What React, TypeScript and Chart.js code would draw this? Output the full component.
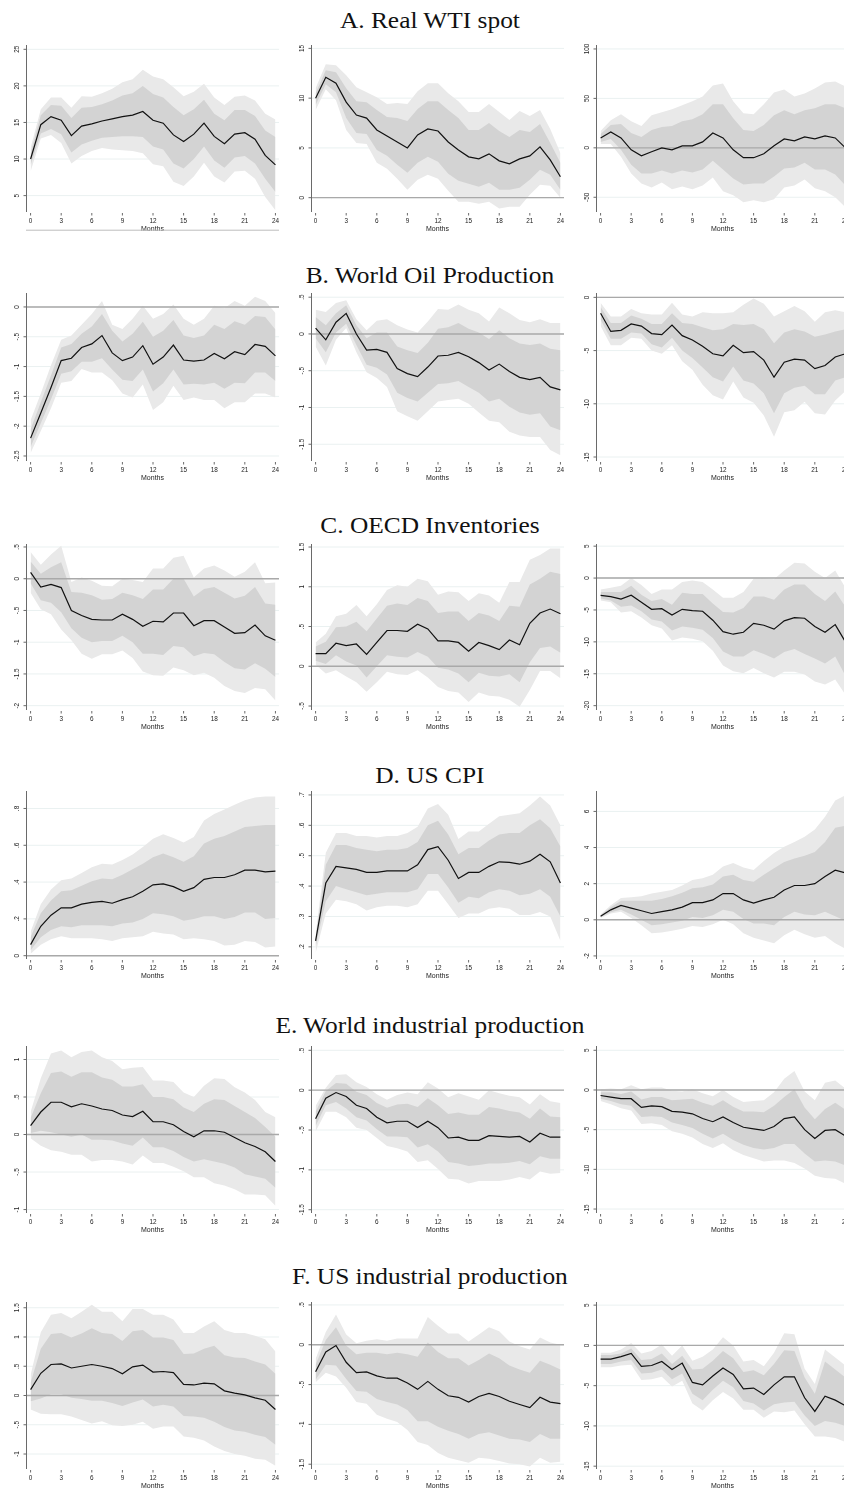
import React, { useEffect, useRef } from 'react';
import { Chart, registerables } from 'chart.js';
Chart.register(...registerables);

// ---------- categories / tick labels ----------
const months = [0, 1, 2, 3, 4, 5, 6, 7, 8, 9, 10, 11, 12, 13, 14, 15, 16, 17, 18, 19, 20, 21, 22, 23, 24];
const xTicks = [0, 3, 6, 9, 12, 15, 18, 21, 24];
const xTitle = 'Months';
const rowTitles = [
  'A. Real WTI spot',
  'B. World Oil Production',
  'C. OECD Inventories',
  'D. US CPI',
  'E. World industrial production',
  'F. US industrial production',
];

// ---------- A. Real WTI spot ----------
const a1Irf = [10, 14.7, 15.8, 15.3, 13.2, 14.5, 14.8, 15.2, 15.5, 15.8, 16.0, 16.5, 15.3, 14.9, 13.3, 12.4, 13.4, 14.9, 13.1, 12.1, 13.4, 13.6, 12.7, 10.5, 9.2];
const a1Hi68 = [10.8, 16, 17.4, 17.3, 15.6, 17.0, 17.1, 17.5, 18, 18.7, 19, 20, 18.9, 18.4, 17.1, 16, 16.8, 18.1, 16.2, 15.3, 16.7, 16.7, 15.9, 13.9, 13];
const a1Hi90 = [11.5, 16.8, 18.4, 18.4, 17, 18.6, 18.5, 19, 19.6, 20.5, 20.9, 22.2, 21.3, 20.9, 19.8, 18.6, 19.2, 20.3, 18.4, 17.4, 18.5, 18.7, 18.0, 16.2, 15.4];
const a1Lo68 = [9.2, 13.5, 14.1, 13.4, 10.9, 12.0, 12.5, 12.9, 13, 13.1, 13.1, 13, 11.7, 11.3, 9.4, 8.7, 10.0, 11.7, 9.8, 8.8, 10.2, 10.4, 9.4, 7.3, 5.5];
const a1Lo90 = [8.3, 12.8, 13.3, 12.2, 9.4, 10.4, 11.1, 11.5, 11.3, 11.2, 11.1, 10.8, 9.3, 9.0, 6.9, 6.3, 7.6, 9.5, 7.6, 6.8, 8.3, 8.4, 7.3, 4.8, 3.0];

const a2Irf = [10, 12.1, 11.5, 9.6, 8.3, 8.0, 6.8, 6.2, 5.6, 5.0, 6.3, 6.9, 6.7, 5.6, 4.8, 4.1, 3.9, 4.4, 3.7, 3.4, 3.9, 4.2, 5.1, 3.8, 2.1];
const a2Hi68 = [10.5, 12.8, 12.6, 11.0, 9.7, 9.6, 8.8, 8.1, 8.0, 7.7, 8.9, 9.7, 9.7, 8.8, 8.0, 6.8, 6.8, 7.5, 6.7, 6.1, 6.8, 6.6, 7.4, 5.5, 3.5];
const a2Hi90 = [11.0, 13.4, 13.3, 12.3, 11.1, 10.6, 10.1, 9.4, 9.5, 9.4, 10.7, 11.5, 11.5, 10.5, 9.7, 8.6, 8.6, 9.4, 8.6, 7.8, 8.7, 8.2, 8.8, 6.9, 4.5];
const a2Lo68 = [9.3, 11.4, 10.6, 8.0, 6.5, 6.4, 4.8, 4.2, 3.3, 2.5, 3.5, 4.1, 3.6, 2.4, 1.7, 1.4, 1.1, 1.5, 0.8, 0.8, 1.0, 1.8, 2.8, 2.3, 0.8];
const a2Lo90 = [8.8, 10.9, 9.8, 6.8, 5.5, 5.4, 3.5, 2.9, 1.9, 0.8, 1.8, 2.3, 1.9, 0.7, -0.4, -0.4, -0.6, -0.4, -1.1, -0.9, -0.9, 0.3, 1.3, 1.2, 0.0];

const a3Irf = [10, 16, 10, -2, -8, -4, 0, -2, 2, 2, 6, 15, 10, -2, -10, -10, -6, 2, 9, 7, 11, 9, 12, 10, 0];
const a3Hi68 = [14, 23, 24, 15, 11, 18, 21, 22, 27, 29, 34, 44, 44, 30, 18, 17, 23, 33, 38, 34, 38, 40, 44, 44, 40];
const a3Hi90 = [17, 28, 34, 27, 22, 33, 36, 39, 43, 47, 52, 63, 65, 47, 35, 34, 44, 56, 59, 52, 55, 60, 66, 67, 62];
const a3Lo68 = [6, 9, -2, -17, -26, -26, -23, -26, -23, -25, -22, -13, -22, -31, -37, -36, -36, -29, -21, -20, -15, -22, -22, -27, -38];
const a3Lo90 = [4, 4, -9, -26, -36, -40, -35, -42, -39, -42, -38, -30, -44, -48, -55, -53, -55, -52, -40, -38, -32, -41, -44, -50, -60];

// ---------- B. World Oil Production ----------
const b1Irf = [-2.2, -1.78, -1.35, -0.9, -0.86, -0.68, -0.62, -0.48, -0.77, -0.9, -0.84, -0.65, -0.96, -0.84, -0.64, -0.89, -0.91, -0.89, -0.78, -0.87, -0.75, -0.8, -0.63, -0.66, -0.82];
const b1Hi68 = [-2.05, -1.6, -1.15, -0.68, -0.62, -0.45, -0.33, -0.12, -0.4, -0.58, -0.45, -0.25, -0.5, -0.4, -0.22, -0.48, -0.52, -0.48, -0.3, -0.37, -0.24, -0.3, -0.15, -0.17, -0.38];
const b1Hi90 = [-1.9, -1.45, -0.98, -0.55, -0.48, -0.3, -0.12, 0.1, -0.3, -0.37, -0.2, 0.02, -0.2, -0.12, 0.04, -0.2, -0.3, -0.2, 0.02, -0.02, 0.1, 0.02, 0.17, 0.1, -0.1];
const b1Lo68 = [-2.35, -1.95, -1.55, -1.12, -1.08, -0.92, -0.92, -0.86, -1.05, -1.22, -1.24, -1.05, -1.42, -1.28, -1.05, -1.3, -1.29, -1.3, -1.27, -1.37, -1.27, -1.28, -1.1, -1.1, -1.24];
const b1Lo90 = [-2.45, -2.08, -1.7, -1.27, -1.24, -1.04, -1.1, -1.1, -1.23, -1.45, -1.52, -1.3, -1.73, -1.6, -1.32, -1.56, -1.52, -1.56, -1.56, -1.7, -1.6, -1.6, -1.45, -1.45, -1.52];

const b2Irf = [0.08, -0.08, 0.16, 0.28, 0.0, -0.22, -0.21, -0.25, -0.47, -0.54, -0.58, -0.45, -0.3, -0.29, -0.25, -0.31, -0.39, -0.49, -0.41, -0.51, -0.59, -0.62, -0.59, -0.72, -0.76];
const b2Hi68 = [0.23, 0.12, 0.28, 0.39, 0.12, -0.06, 0.02, 0.02, -0.17, -0.22, -0.26, -0.12, 0.07, 0.09, 0.15, 0.07, 0.02, -0.07, 0.05, -0.06, -0.13, -0.15, -0.13, -0.2, -0.22];
const b2Hi90 = [0.33, 0.3, 0.42, 0.46, 0.2, 0.05, 0.18, 0.2, 0.12, 0.06, 0.02, 0.17, 0.34, 0.33, 0.4, 0.33, 0.28, 0.17, 0.36, 0.28, 0.19, 0.16, 0.2, 0.15, 0.15];
const b2Lo68 = [-0.06, -0.25, 0.02, 0.14, -0.15, -0.42, -0.46, -0.55, -0.8, -0.87, -0.92, -0.8, -0.68, -0.67, -0.64, -0.72, -0.8, -0.92, -0.88, -0.99, -1.07, -1.1, -1.08, -1.26, -1.31];
const b2Lo90 = [-0.17, -0.43, -0.08, 0.08, -0.25, -0.52, -0.6, -0.72, -1.05, -1.12, -1.18, -1.05, -0.92, -0.9, -0.88, -0.95, -1.07, -1.18, -1.2, -1.33, -1.38, -1.4, -1.4, -1.58, -1.65];

const b3Irf = [-1.5, -3.2, -3.1, -2.5, -2.7, -3.4, -3.5, -2.6, -3.6, -4.0, -4.6, -5.3, -5.5, -4.5, -5.2, -5.1, -5.9, -7.5, -6.1, -5.8, -5.9, -6.7, -6.4, -5.6, -5.3];
const b3Hi68 = [-0.9, -2.4, -2.4, -1.7, -2.0, -2.5, -2.5, -1.5, -2.4, -2.5, -2.8, -3.1, -3.0, -2.5, -2.6, -2.5, -3.0, -4.3, -3.3, -3.0, -3.2, -3.7, -3.5, -3.2, -3.0];
const b3Hi90 = [-0.5, -1.8, -1.8, -1.1, -1.5, -1.6, -1.6, -0.5, -1.6, -1.8, -1.4, -1.5, -1.5, -1.4, -0.7, -0.1, -0.6, -1.8, -1.3, -0.8, -1.3, -2.3, -1.4, -1.2, -1.4];
const b3Lo68 = [-2.1, -3.9, -3.9, -3.3, -3.4, -4.4, -4.7, -3.8, -5.0, -5.7, -6.6, -7.5, -7.9, -6.5, -7.8, -8.1, -9.0, -10.9, -9.0, -8.5, -8.3, -9.1, -9.1, -7.8, -7.5];
const b3Lo90 = [-2.7, -4.5, -4.5, -3.8, -3.9, -5.0, -5.3, -4.5, -6.0, -6.8, -8.2, -9.2, -9.6, -7.9, -9.4, -9.9, -11.1, -13.1, -10.8, -10.6, -9.8, -10.9, -11.0, -9.7, -8.8];

// ---------- C. OECD Inventories ----------
const c1Irf = [0.1, -0.13, -0.09, -0.14, -0.5, -0.58, -0.64, -0.65, -0.65, -0.56, -0.64, -0.75, -0.67, -0.68, -0.54, -0.54, -0.74, -0.66, -0.66, -0.76, -0.86, -0.85, -0.73, -0.9, -0.97];
const c1Hi68 = [0.27, 0.08, 0.18, 0.26, -0.21, -0.22, -0.26, -0.33, -0.32, -0.22, -0.26, -0.32, -0.17, -0.17, 0.0, 0.0, -0.28, -0.16, -0.13, -0.22, -0.31, -0.27, -0.13, -0.39, -0.41];
const c1Hi90 = [0.42, 0.22, 0.38, 0.52, -0.05, 0.02, -0.03, -0.11, -0.12, 0.0, -0.02, -0.05, 0.16, 0.16, 0.33, 0.36, 0.02, 0.16, 0.21, 0.13, 0.03, 0.11, 0.26, -0.07, -0.06];
const c1Lo68 = [-0.07, -0.34, -0.38, -0.53, -0.78, -0.93, -1.0, -0.98, -0.98, -0.9, -1.0, -1.18, -1.18, -1.2, -1.06, -1.08, -1.22, -1.17, -1.19, -1.31, -1.41, -1.43, -1.33, -1.42, -1.55];
const c1Lo90 = [-0.22, -0.48, -0.56, -0.8, -0.97, -1.18, -1.26, -1.19, -1.19, -1.13, -1.25, -1.46, -1.52, -1.53, -1.4, -1.44, -1.52, -1.48, -1.56, -1.69, -1.77, -1.8, -1.72, -1.74, -1.92];

const c2Irf = [0.16, 0.16, 0.29, 0.26, 0.28, 0.15, 0.3, 0.45, 0.45, 0.44, 0.53, 0.47, 0.32, 0.32, 0.3, 0.19, 0.3, 0.26, 0.21, 0.33, 0.27, 0.54, 0.67, 0.72, 0.66];
const c2Hi68 = [0.25, 0.31, 0.49, 0.5, 0.56, 0.44, 0.6, 0.76, 0.79, 0.77, 0.86, 0.82, 0.67, 0.69, 0.69, 0.57, 0.67, 0.64, 0.57, 0.76, 0.75, 1.03, 1.1, 1.19, 1.16];
const c2Hi90 = [0.3, 0.41, 0.63, 0.66, 0.77, 0.63, 0.78, 0.96, 1.02, 1.0, 1.1, 1.07, 0.9, 0.94, 0.93, 0.82, 0.92, 0.89, 0.8, 1.06, 1.06, 1.34, 1.4, 1.48, 1.48];
const c2Lo68 = [0.07, 0.03, 0.14, 0.06, 0.01, -0.14, 0.0, 0.14, 0.12, 0.11, 0.18, 0.12, -0.02, -0.04, -0.09, -0.2, -0.08, -0.12, -0.13, -0.1, -0.2, 0.05, 0.23, 0.25, 0.17];
const c2Lo90 = [0.02, -0.09, -0.05, -0.13, -0.2, -0.32, -0.2, -0.07, -0.1, -0.11, -0.05, -0.14, -0.26, -0.31, -0.33, -0.45, -0.33, -0.37, -0.38, -0.42, -0.51, -0.3, -0.06, -0.06, -0.15];

const c3Irf = [-2.7, -2.9, -3.3, -2.7, -3.8, -4.9, -4.8, -5.8, -4.9, -5.1, -5.2, -6.6, -8.4, -8.8, -8.5, -7.1, -7.4, -8.0, -6.7, -6.2, -6.3, -7.6, -8.5, -7.3, -10];
const c3Hi68 = [-2.2, -2.2, -2.2, -1.2, -2.6, -3.6, -3.3, -4.2, -2.3, -2.5, -2.5, -4.0, -5.3, -5.4, -4.7, -2.9, -2.9, -3.4, -1.8, -1.0, -1.0, -2.5, -3.6, -2.1, -4.5];
const c3Hi90 = [-1.8, -1.5, -1.2, 0.0, -1.1, -2.5, -1.8, -1.8, -0.6, -0.4, -0.6, -1.8, -3.1, -3.1, -2.2, -0.1, 0.0, -0.2, 1.2, 2.4, 2.3, 1.0, 0.0, 1.2, -1.5];
const c3Lo68 = [-3.2, -3.5, -4.5, -4.3, -5.2, -6.5, -6.8, -8.2, -7.6, -7.8, -8.1, -9.4, -11.5, -12.3, -12.3, -11.3, -11.9, -12.6, -11.6, -11.1, -11.9, -12.6, -13.4, -12.3, -15.3];
const c3Lo90 = [-3.5, -3.8, -5.4, -5.2, -6.2, -7.4, -7.9, -9.8, -9.3, -9.5, -9.9, -11.4, -13.7, -14.6, -14.9, -14.1, -14.9, -15.6, -14.7, -14.7, -15.1, -16.2, -16.7, -15.9, -18.3];

// ---------- D. US CPI ----------
const d1Irf = [0.06, 0.16, 0.22, 0.26, 0.26, 0.28, 0.29, 0.295, 0.285, 0.305, 0.32, 0.35, 0.385, 0.39, 0.375, 0.35, 0.37, 0.415, 0.425, 0.425, 0.44, 0.465, 0.465, 0.455, 0.46];
const d1Hi68 = [0.1, 0.23, 0.3, 0.35, 0.355, 0.38, 0.405, 0.42, 0.415, 0.44, 0.47, 0.5, 0.535, 0.555, 0.535, 0.51, 0.54, 0.61, 0.635, 0.65, 0.675, 0.7, 0.705, 0.71, 0.71];
const d1Hi90 = [0.13, 0.28, 0.36, 0.41, 0.42, 0.45, 0.48, 0.5, 0.495, 0.52, 0.55, 0.59, 0.635, 0.66, 0.64, 0.615, 0.645, 0.735, 0.77, 0.795, 0.82, 0.845, 0.86, 0.865, 0.865];
const d1Lo68 = [0.03, 0.1, 0.14, 0.16, 0.155, 0.165, 0.165, 0.165, 0.16, 0.175, 0.18, 0.2, 0.23, 0.225, 0.215, 0.19, 0.2, 0.215, 0.215, 0.2, 0.21, 0.235, 0.235, 0.2, 0.205];
const d1Lo90 = [0.01, 0.06, 0.09, 0.105, 0.095, 0.095, 0.095, 0.09, 0.08, 0.095, 0.1, 0.105, 0.13, 0.12, 0.115, 0.09, 0.095, 0.09, 0.08, 0.055, 0.06, 0.08, 0.075, 0.045, 0.05];

const d2Irf = [0.22, 0.41, 0.465, 0.46, 0.455, 0.445, 0.445, 0.45, 0.45, 0.45, 0.47, 0.52, 0.53, 0.485, 0.425, 0.445, 0.445, 0.465, 0.48, 0.478, 0.472, 0.482, 0.505, 0.48, 0.41];
const d2Hi68 = [0.23, 0.47, 0.535, 0.535, 0.525, 0.52, 0.515, 0.52, 0.52, 0.525, 0.545, 0.6, 0.615, 0.57, 0.505, 0.525, 0.525, 0.55, 0.57, 0.575, 0.575, 0.6, 0.62, 0.59, 0.53];
const d2Hi90 = [0.24, 0.51, 0.575, 0.575, 0.565, 0.565, 0.56, 0.565, 0.565, 0.575, 0.595, 0.655, 0.67, 0.635, 0.555, 0.58, 0.58, 0.605, 0.63, 0.635, 0.64, 0.665, 0.695, 0.665, 0.6];
const d2Lo68 = [0.2, 0.35, 0.4, 0.39, 0.38, 0.37, 0.375, 0.38, 0.38, 0.38, 0.39, 0.44, 0.44, 0.395, 0.345, 0.365, 0.36, 0.38, 0.39, 0.385, 0.37, 0.375, 0.39, 0.365, 0.3];
const d2Lo90 = [0.18, 0.31, 0.355, 0.35, 0.34, 0.32, 0.33, 0.335, 0.335, 0.33, 0.34, 0.385, 0.385, 0.34, 0.295, 0.31, 0.31, 0.325, 0.33, 0.325, 0.305, 0.305, 0.315, 0.3, 0.22];

const d3Irf = [0.2, 0.55, 0.8, 0.65, 0.5, 0.35, 0.45, 0.55, 0.7, 0.95, 0.95, 1.1, 1.45, 1.45, 1.1, 0.92, 1.1, 1.25, 1.65, 1.9, 1.9, 2.0, 2.4, 2.75, 2.6];
const d3Hi68 = [0.25, 0.7, 1.05, 1.05, 1.05, 1.05, 1.15, 1.3, 1.5, 1.75, 1.8, 1.95, 2.4, 2.5, 2.2, 2.1, 2.5, 2.85, 3.2, 3.4, 3.55, 3.75, 4.3, 5.1, 5.2];
const d3Hi90 = [0.3, 0.8, 1.2, 1.25, 1.3, 1.45, 1.55, 1.65, 1.9, 2.2, 2.3, 2.5, 2.95, 3.15, 2.9, 2.75, 3.25, 3.7, 4.05, 4.3, 4.6, 5.0, 5.7, 6.6, 6.9];
const d3Lo68 = [0.15, 0.42, 0.55, 0.3, 0.0, -0.3, -0.25, -0.15, -0.05, 0.15, 0.1, 0.25, 0.55, 0.45, 0.05, -0.2, -0.2, -0.3, 0.15, 0.45, 0.3, 0.25, 0.45, 0.2, -0.05];
const d3Lo90 = [0.1, 0.35, 0.45, 0.1, -0.3, -0.75, -0.7, -0.6, -0.5, -0.35, -0.4, -0.25, 0.0, -0.25, -0.75, -1.0, -1.15, -1.3, -0.85, -0.55, -0.8, -1.0, -0.9, -1.3, -1.6];

// ---------- E. World industrial production ----------
const e1Irf = [0.12, 0.3, 0.43, 0.43, 0.37, 0.41, 0.38, 0.34, 0.32, 0.26, 0.24, 0.31, 0.17, 0.17, 0.13, 0.04, -0.03, 0.05, 0.05, 0.03, -0.04, -0.11, -0.16, -0.23, -0.36];
const e1Hi68 = [0.22, 0.55, 0.82, 0.84, 0.77, 0.83, 0.83, 0.76, 0.73, 0.64, 0.64, 0.67, 0.5, 0.5, 0.47, 0.36, 0.3, 0.41, 0.47, 0.46, 0.38, 0.3, 0.22, 0.1, -0.03];
const e1Hi90 = [0.3, 0.75, 1.08, 1.12, 1.03, 1.1, 1.12, 1.03, 0.98, 0.87, 0.89, 0.9, 0.72, 0.72, 0.7, 0.56, 0.5, 0.65, 0.75, 0.74, 0.63, 0.56, 0.46, 0.3, 0.23];
const e1Lo68 = [0.02, 0.05, 0.03, 0.0, -0.03, 0.0, -0.07, -0.07, -0.08, -0.12, -0.15, -0.04, -0.17, -0.17, -0.22, -0.3, -0.36, -0.33, -0.36, -0.39, -0.44, -0.53, -0.56, -0.59, -0.71];
const e1Lo90 = [-0.05, -0.15, -0.21, -0.23, -0.27, -0.27, -0.36, -0.34, -0.34, -0.36, -0.4, -0.28, -0.38, -0.38, -0.43, -0.49, -0.57, -0.57, -0.65, -0.68, -0.73, -0.8, -0.8, -0.81, -0.95];

const e2Irf = [-0.36, -0.1, -0.03, -0.08, -0.19, -0.23, -0.34, -0.41, -0.39, -0.39, -0.47, -0.39, -0.47, -0.6, -0.59, -0.63, -0.63, -0.57, -0.58, -0.59, -0.58, -0.65, -0.54, -0.59, -0.59];
const e2Hi68 = [-0.27, -0.01, 0.09, 0.08, -0.02, -0.06, -0.16, -0.22, -0.18, -0.17, -0.21, -0.1, -0.19, -0.3, -0.28, -0.31, -0.31, -0.21, -0.23, -0.26, -0.28, -0.36, -0.23, -0.33, -0.34];
const e2Hi90 = [-0.2, 0.03, 0.19, 0.2, 0.1, 0.04, -0.05, -0.12, -0.06, -0.03, -0.05, 0.1, 0.02, -0.09, -0.04, -0.08, -0.12, 0.0, -0.04, -0.07, -0.09, -0.18, -0.05, -0.14, -0.16];
const e2Lo68 = [-0.45, -0.19, -0.15, -0.23, -0.34, -0.38, -0.49, -0.58, -0.58, -0.59, -0.72, -0.68, -0.77, -0.9, -0.92, -0.95, -0.94, -0.92, -0.92, -0.91, -0.89, -0.93, -0.83, -0.86, -0.86];
const e2Lo90 = [-0.52, -0.27, -0.27, -0.34, -0.47, -0.5, -0.6, -0.7, -0.73, -0.77, -0.9, -0.88, -0.99, -1.11, -1.12, -1.17, -1.14, -1.14, -1.14, -1.12, -1.09, -1.12, -1.02, -1.05, -1.04];

const e3Irf = [-0.7, -0.9, -1.1, -1.1, -2.2, -2.0, -2.1, -2.7, -2.8, -3.0, -3.6, -4.0, -3.4, -4.1, -4.7, -4.9, -5.1, -4.6, -3.6, -3.4, -5.0, -6.1, -5.1, -5.0, -5.8];
const e3Hi68 = [-0.3, -0.3, -0.5, -0.2, -1.2, -0.9, -0.9, -1.3, -1.2, -1.1, -1.6, -2.0, -1.3, -2.1, -2.7, -2.7, -2.8, -2.0, -0.9, 0.1, -2.2, -3.7, -2.4, -1.6, -2.5];
const e3Hi90 = [0.1, 0.2, 0.1, 0.6, 0.1, 0.3, 0.3, -0.1, -0.2, 0.1, -0.4, -0.8, 0.0, -0.9, -1.5, -1.4, -1.3, -0.3, 1.4, 2.4, -0.2, -1.3, 0.9, 1.2, 0.2];
const e3Lo68 = [-1.1, -1.4, -1.8, -2.0, -3.4, -3.3, -3.4, -4.1, -4.4, -4.8, -5.5, -6.1, -5.5, -6.3, -6.9, -7.3, -7.5, -7.3, -6.8, -6.8, -8.0, -9.0, -8.9, -9.0, -9.5];
const e3Lo90 = [-1.4, -1.8, -2.3, -2.6, -4.3, -4.2, -4.4, -5.2, -5.5, -6.0, -6.8, -7.3, -6.7, -7.6, -8.2, -8.6, -9.0, -8.9, -8.9, -9.2, -9.9, -10.8, -11.1, -11.2, -11.8];

// ---------- F. US industrial production ----------
const f1Irf = [0.1, 0.38, 0.53, 0.54, 0.47, 0.5, 0.53, 0.5, 0.46, 0.37, 0.49, 0.52, 0.4, 0.41, 0.39, 0.19, 0.18, 0.21, 0.2, 0.08, 0.04, 0.01, -0.04, -0.08, -0.24];
const f1Hi68 = [0.22, 0.8, 1.05, 1.07, 0.99, 1.06, 1.15, 1.07, 1.05, 0.93, 1.1, 1.12, 0.99, 0.99, 0.95, 0.71, 0.72, 0.8, 0.85, 0.69, 0.65, 0.64, 0.58, 0.53, 0.37];
const f1Hi90 = [0.35, 1.08, 1.38, 1.41, 1.32, 1.43, 1.55, 1.43, 1.43, 1.27, 1.48, 1.48, 1.38, 1.38, 1.3, 1.07, 1.07, 1.18, 1.27, 1.12, 1.07, 1.07, 1.02, 0.96, 0.75];
const f1Lo68 = [-0.1, -0.05, 0.02, 0.02, -0.04, -0.06, -0.09, -0.09, -0.13, -0.18, -0.12, -0.07, -0.19, -0.16, -0.19, -0.35, -0.36, -0.38, -0.45, -0.54, -0.6, -0.62, -0.67, -0.71, -0.84];
const f1Lo90 = [-0.24, -0.31, -0.32, -0.32, -0.36, -0.42, -0.48, -0.44, -0.51, -0.52, -0.5, -0.45, -0.57, -0.53, -0.53, -0.7, -0.72, -0.77, -0.87, -0.95, -1.0, -1.03, -1.08, -1.1, -1.2];

const f2Irf = [-0.34, -0.09, -0.01, -0.22, -0.35, -0.34, -0.39, -0.42, -0.42, -0.48, -0.56, -0.46, -0.56, -0.64, -0.66, -0.72, -0.65, -0.61, -0.65, -0.71, -0.75, -0.79, -0.66, -0.72, -0.74];
const f2Hi68 = [-0.25, 0.06, 0.22, -0.01, -0.12, -0.1, -0.1, -0.12, -0.1, -0.12, -0.15, 0.03, -0.09, -0.17, -0.17, -0.26, -0.19, -0.11, -0.17, -0.26, -0.31, -0.35, -0.2, -0.25, -0.31];
const f2Hi90 = [-0.18, 0.16, 0.38, 0.13, 0.02, 0.05, 0.07, 0.05, 0.08, 0.08, 0.08, 0.35, 0.24, 0.14, 0.14, 0.04, 0.13, 0.22, 0.17, 0.04, -0.02, -0.06, 0.09, 0.03, 0.0];
const f2Lo68 = [-0.44, -0.25, -0.26, -0.43, -0.58, -0.59, -0.68, -0.72, -0.75, -0.82, -0.96, -0.96, -1.03, -1.08, -1.12, -1.18, -1.12, -1.1, -1.14, -1.18, -1.19, -1.22, -1.12, -1.18, -1.18];
const f2Lo90 = [-0.47, -0.35, -0.4, -0.54, -0.72, -0.74, -0.88, -0.93, -0.97, -1.07, -1.22, -1.26, -1.36, -1.42, -1.45, -1.48, -1.42, -1.43, -1.46, -1.49, -1.5, -1.53, -1.42, -1.48, -1.47];

const f3Irf = [-1.7, -1.7, -1.4, -1.0, -2.6, -2.5, -2.0, -3.0, -2.2, -4.6, -4.9, -3.8, -2.8, -3.6, -5.4, -5.3, -6.1, -4.9, -3.9, -3.9, -6.5, -8.2, -6.3, -6.8, -7.5];
const f3Hi68 = [-1.2, -1.2, -1.0, -0.4, -1.8, -1.7, -1.0, -2.3, -1.3, -3.0, -2.9, -1.9, -0.7, -1.6, -3.3, -3.1, -3.7, -2.3, -0.6, -0.7, -4.0, -6.0, -2.0, -3.0, -4.0];
const f3Hi90 = [-0.9, -0.9, -0.5, 0.3, -1.0, -0.7, 0.1, -1.3, 0.0, -1.9, -1.4, -0.5, 1.0, 0.0, -2.0, -1.8, -2.6, -0.9, 1.5, 1.4, -2.9, -4.8, -0.5, -1.5, -2.5];
const f3Lo68 = [-2.3, -2.3, -2.0, -1.8, -3.5, -3.4, -3.0, -4.2, -3.5, -6.0, -6.8, -5.5, -4.4, -5.2, -6.9, -7.2, -8.1, -7.3, -7.1, -7.0, -8.7, -10.0, -9.4, -9.6, -10.0];
const f3Lo90 = [-2.7, -2.7, -2.5, -2.4, -4.3, -4.2, -3.9, -5.1, -4.4, -7.2, -8.1, -6.8, -5.8, -6.6, -8.0, -8.0, -9.0, -8.2, -8.3, -8.1, -9.8, -11.3, -11.3, -11.5, -12.0];

// ---------- y-axis ticks ----------
const a1Ticks = [5, 10, 15, 20, 25]; const a1Labels = ['5', '10', '15', '20', '25'];
const a2Ticks = [0, 5, 10, 15]; const a2Labels = ['0', '5', '10', '15'];
const a3Ticks = [-50, 0, 50, 100]; const a3Labels = ['-50', '0', '50', '100'];
const b1Ticks = [-2.5, -2, -1.5, -1, -0.5, 0]; const b1Labels = ['-2.5', '-2', '-1.5', '-1', '-.5', '0'];
const b2Ticks = [-1.5, -1, -0.5, 0, 0.5]; const b2Labels = ['-1.5', '-1', '-.5', '0', '.5'];
const b3Ticks = [-15, -10, -5, 0]; const b3Labels = ['-15', '-10', '-5', '0'];
const c1Ticks = [-2, -1.5, -1, -0.5, 0, 0.5]; const c1Labels = ['-2', '-1.5', '-1', '-.5', '0', '.5'];
const c2Ticks = [-0.5, 0, 0.5, 1, 1.5]; const c2Labels = ['-.5', '0', '.5', '1', '1.5'];
const c3Ticks = [-20, -15, -10, -5, 0, 5]; const c3Labels = ['-20', '-15', '-10', '-5', '0', '5'];
const d1Ticks = [0, 0.2, 0.4, 0.6, 0.8]; const d1Labels = ['0', '.2', '.4', '.6', '.8'];
const d2Ticks = [0.2, 0.3, 0.4, 0.5, 0.6, 0.7]; const d2Labels = ['.2', '.3', '.4', '.5', '.6', '.7'];
const d3Ticks = [-2, 0, 2, 4, 6]; const d3Labels = ['-2', '0', '2', '4', '6'];
const e1Ticks = [-1, -0.5, 0, 0.5, 1]; const e1Labels = ['-1', '-.5', '0', '.5', '1'];
const e2Ticks = [-1.5, -1, -0.5, 0, 0.5]; const e2Labels = ['-1.5', '-1', '-.5', '0', '.5'];
const e3Ticks = [-15, -10, -5, 0, 5]; const e3Labels = ['-15', '-10', '-5', '0', '5'];
const f1Ticks = [-1, -0.5, 0, 0.5, 1, 1.5]; const f1Labels = ['-1', '-.5', '0', '.5', '1', '1.5'];
const f2Ticks = [-1.5, -1, -0.5, 0, 0.5]; const f2Labels = ['-1.5', '-1', '-.5', '0', '.5'];
const f3Ticks = [-15, -10, -5, 0, 5]; const f3Labels = ['-15', '-10', '-5', '0', '5'];

// ---------- y-axis ranges [min, max] ----------
const a1Range = [2.76, 25.59]; const a2Range = [-1.44, 15.34]; const a3Range = [-64.9, 104];
const b1Range = [-2.584, 0.234]; const b2Range = [-1.728, 0.557]; const b3Range = [-15.375, 0.41];
const c1Range = [-2.068, 0.547]; const c2Range = [-0.55, 1.538]; const c3Range = [-20.68, 5.34];
const d1Range = [-0.018, 0.895]; const d2Range = [0.16, 0.713]; const d3Range = [-2.17, 7.13];
const e1Range = [-1.046, 1.18]; const e2Range = [-1.541, 0.554]; const e3Range = [-15.5, 5.54];
const f1Range = [-1.256, 1.598]; const f2Range = [-1.56, 0.537]; const f3Range = [-15.35, 5.39];

// ---------- layout & style ----------
const COL_AXIS_X = [25.5, 311, 596];
const PLOT_W = 253;
const ROW_TOP = [45, 293.3, 544.3, 791, 1046, 1302.3];
const ROW_BOTTOM = [212.3, 461.7, 710, 959, 1213.3, 1469];
const TITLE_CY = [20.5, 275.7, 525, 775.7, 1025, 1276.7];
const X_MIN = -0.45, X_MAX = 24.35;
const PAD_L = 24, PAD_R = 6, PAD_T = 6, PAD_B = 28;
const OUTER_FILL = '#e9e9e9';
const INNER_FILL = '#d3d3d3';
const LINE_COLOR = '#111111';
const GRID_COLOR = '#eaf1f1';
const ZERO_COLOR = '#a9a9a9';
const AXIS_COLOR = '#6a6a6a';
const TEXT_COLOR = '#222222';
const SANS = '"Liberation Sans", Arial, Helvetica, sans-serif';

type Panel = {
  irf: number[]; lo68: number[]; hi68: number[]; lo90: number[]; hi90: number[];
  range: number[]; ticks: number[]; labels: string[]; zero: boolean; extraLine?: boolean;
};

const panels: Panel[][] = [
  [
    { irf: a1Irf, lo68: a1Lo68, hi68: a1Hi68, lo90: a1Lo90, hi90: a1Hi90, range: a1Range, ticks: a1Ticks, labels: a1Labels, zero: false, extraLine: true },
    { irf: a2Irf, lo68: a2Lo68, hi68: a2Hi68, lo90: a2Lo90, hi90: a2Hi90, range: a2Range, ticks: a2Ticks, labels: a2Labels, zero: true },
    { irf: a3Irf, lo68: a3Lo68, hi68: a3Hi68, lo90: a3Lo90, hi90: a3Hi90, range: a3Range, ticks: a3Ticks, labels: a3Labels, zero: true },
  ],
  [
    { irf: b1Irf, lo68: b1Lo68, hi68: b1Hi68, lo90: b1Lo90, hi90: b1Hi90, range: b1Range, ticks: b1Ticks, labels: b1Labels, zero: true },
    { irf: b2Irf, lo68: b2Lo68, hi68: b2Hi68, lo90: b2Lo90, hi90: b2Hi90, range: b2Range, ticks: b2Ticks, labels: b2Labels, zero: true },
    { irf: b3Irf, lo68: b3Lo68, hi68: b3Hi68, lo90: b3Lo90, hi90: b3Hi90, range: b3Range, ticks: b3Ticks, labels: b3Labels, zero: true },
  ],
  [
    { irf: c1Irf, lo68: c1Lo68, hi68: c1Hi68, lo90: c1Lo90, hi90: c1Hi90, range: c1Range, ticks: c1Ticks, labels: c1Labels, zero: true },
    { irf: c2Irf, lo68: c2Lo68, hi68: c2Hi68, lo90: c2Lo90, hi90: c2Hi90, range: c2Range, ticks: c2Ticks, labels: c2Labels, zero: true },
    { irf: c3Irf, lo68: c3Lo68, hi68: c3Hi68, lo90: c3Lo90, hi90: c3Hi90, range: c3Range, ticks: c3Ticks, labels: c3Labels, zero: true },
  ],
  [
    { irf: d1Irf, lo68: d1Lo68, hi68: d1Hi68, lo90: d1Lo90, hi90: d1Hi90, range: d1Range, ticks: d1Ticks, labels: d1Labels, zero: true },
    { irf: d2Irf, lo68: d2Lo68, hi68: d2Hi68, lo90: d2Lo90, hi90: d2Hi90, range: d2Range, ticks: d2Ticks, labels: d2Labels, zero: false },
    { irf: d3Irf, lo68: d3Lo68, hi68: d3Hi68, lo90: d3Lo90, hi90: d3Hi90, range: d3Range, ticks: d3Ticks, labels: d3Labels, zero: true },
  ],
  [
    { irf: e1Irf, lo68: e1Lo68, hi68: e1Hi68, lo90: e1Lo90, hi90: e1Hi90, range: e1Range, ticks: e1Ticks, labels: e1Labels, zero: true },
    { irf: e2Irf, lo68: e2Lo68, hi68: e2Hi68, lo90: e2Lo90, hi90: e2Hi90, range: e2Range, ticks: e2Ticks, labels: e2Labels, zero: true },
    { irf: e3Irf, lo68: e3Lo68, hi68: e3Hi68, lo90: e3Lo90, hi90: e3Hi90, range: e3Range, ticks: e3Ticks, labels: e3Labels, zero: true },
  ],
  [
    { irf: f1Irf, lo68: f1Lo68, hi68: f1Hi68, lo90: f1Lo90, hi90: f1Hi90, range: f1Range, ticks: f1Ticks, labels: f1Labels, zero: true },
    { irf: f2Irf, lo68: f2Lo68, hi68: f2Hi68, lo90: f2Lo90, hi90: f2Hi90, range: f2Range, ticks: f2Ticks, labels: f2Labels, zero: true },
    { irf: f3Irf, lo68: f3Lo68, hi68: f3Hi68, lo90: f3Lo90, hi90: f3Hi90, range: f3Range, ticks: f3Ticks, labels: f3Labels, zero: true },
  ],
];

const pts = (vals: number[]) => months.map((m, i) => ({ x: m, y: vals[i] }));

function makePlugin(p: Panel) {
  return {
    id: 'stataFrame',
    beforeDatasetsDraw(chart: any) {
      const { ctx, chartArea: ca, scales } = chart;
      const y = scales.y;
      ctx.save();
      ctx.strokeStyle = GRID_COLOR;
      ctx.lineWidth = 1;
      p.ticks.forEach((v) => {
        const py = y.getPixelForValue(v);
        ctx.beginPath();
        ctx.moveTo(ca.left, py);
        ctx.lineTo(ca.right, py);
        ctx.stroke();
      });
      ctx.restore();
    },
    afterDatasetDraw(chart: any, args: any) {
      if (args.index !== 1 || !p.zero) return;
      const { ctx, chartArea: ca, scales } = chart;
      const py = scales.y.getPixelForValue(0);
      ctx.save();
      ctx.strokeStyle = ZERO_COLOR;
      ctx.lineWidth = 1.4;
      ctx.beginPath();
      ctx.moveTo(ca.left, py);
      ctx.lineTo(ca.right, py);
      ctx.stroke();
      ctx.restore();
    },
    afterDraw(chart: any) {
      const { ctx, chartArea: ca, scales } = chart;
      const x = scales.x, y = scales.y;
      ctx.save();
      ctx.strokeStyle = AXIS_COLOR;
      ctx.lineWidth = 1;
      ctx.beginPath();
      ctx.moveTo(ca.left + 0.5, ca.top);
      ctx.lineTo(ca.left + 0.5, ca.bottom);
      ctx.stroke();
      ctx.fillStyle = TEXT_COLOR;
      ctx.font = `6.4px ${SANS}`;
      ctx.textAlign = 'center';
      ctx.textBaseline = 'middle';
      p.ticks.forEach((v, i) => {
        const py = y.getPixelForValue(v);
        ctx.beginPath();
        ctx.moveTo(ca.left - 2.5, py);
        ctx.lineTo(ca.left, py);
        ctx.stroke();
        ctx.save();
        ctx.translate(ca.left - 8.5, py);
        ctx.rotate(-Math.PI / 2);
        ctx.fillText(p.labels[i], 0, 0);
        ctx.restore();
      });
      xTicks.forEach((v) => {
        const px = x.getPixelForValue(v);
        ctx.beginPath();
        ctx.moveTo(px, ca.bottom + 1);
        ctx.lineTo(px, ca.bottom + 3.5);
        ctx.stroke();
        ctx.fillText(String(v), px, ca.bottom + 8.8);
      });
      ctx.font = `7px ${SANS}`;
      ctx.fillText(xTitle, (ca.left + ca.right) / 2, ca.bottom + 17);
      if (p.extraLine) {
        ctx.strokeStyle = '#bdbdbd';
        ctx.beginPath();
        ctx.moveTo(ca.left, ca.bottom + 18.2);
        ctx.lineTo(ca.right, ca.bottom + 18.2);
        ctx.stroke();
      }
      ctx.restore();
    },
  };
}

function PanelChart({ p, left, top, height }: { p: Panel; left: number; top: number; height: number }) {
  const ref = useRef<HTMLCanvasElement | null>(null);
  const W = Math.round(PLOT_W + PAD_L + PAD_R);
  const H = Math.round(height + PAD_T + PAD_B);
  useEffect(() => {
    if (!ref.current) return;
    const chart = new Chart(ref.current, {
      type: 'line',
      data: {
        datasets: [
          { data: pts(p.irf), borderColor: LINE_COLOR, borderWidth: 1.2, pointRadius: 0, fill: false, order: 0 },
          { data: pts(p.hi68), borderWidth: 0, borderColor: 'rgba(0,0,0,0)', pointRadius: 0, backgroundColor: INNER_FILL, fill: '+1', order: 1 },
          { data: pts(p.lo68), borderWidth: 0, borderColor: 'rgba(0,0,0,0)', pointRadius: 0, fill: false, order: 1 },
          { data: pts(p.hi90), borderWidth: 0, borderColor: 'rgba(0,0,0,0)', pointRadius: 0, backgroundColor: OUTER_FILL, fill: '+1', order: 2 },
          { data: pts(p.lo90), borderWidth: 0, borderColor: 'rgba(0,0,0,0)', pointRadius: 0, fill: false, order: 2 },
        ],
      },
      options: {
        animation: false,
        responsive: false,
        devicePixelRatio: 1,
        layout: { padding: { left: PAD_L, right: PAD_R, top: PAD_T, bottom: PAD_B } },
        elements: { line: { tension: 0 } },
        scales: {
          x: { type: 'linear', min: X_MIN, max: X_MAX, display: false },
          y: { type: 'linear', min: p.range[0], max: p.range[1], display: false },
        },
        plugins: { legend: { display: false }, tooltip: { enabled: false } },
      },
      plugins: [makePlugin(p)],
    });
    return () => chart.destroy();
  }, [p]);
  return (
    <canvas
      ref={ref}
      width={W}
      height={H}
      style={{ position: 'absolute', left: left - PAD_L, top: top - PAD_T, width: W, height: H }}
    />
  );
}

export default function App() {
  return (
    <div style={{ position: 'fixed', left: 0, top: 0, width: 844, height: 1489, overflow: 'hidden', background: '#ffffff' }}>
      {rowTitles.map((t, r) => (
        <div
          key={'t' + r}
          style={{
            position: 'absolute', left: 0, width: 860, top: TITLE_CY[r] - 12.5, height: 25, lineHeight: '25px',
            textAlign: 'center', fontFamily: '"Liberation Serif", "Times New Roman", serif', fontSize: 23.5,
            color: '#111', transform: 'scaleX(1.08)', transformOrigin: '431px 12px', whiteSpace: 'nowrap',
          }}
        >
          {t}
        </div>
      ))}
      {panels.map((row, r) =>
        row.map((p, c) => (
          <PanelChart key={r + '-' + c} p={p} left={COL_AXIS_X[c]} top={ROW_TOP[r]} height={ROW_BOTTOM[r] - ROW_TOP[r]} />
        ))
      )}
    </div>
  );
}
